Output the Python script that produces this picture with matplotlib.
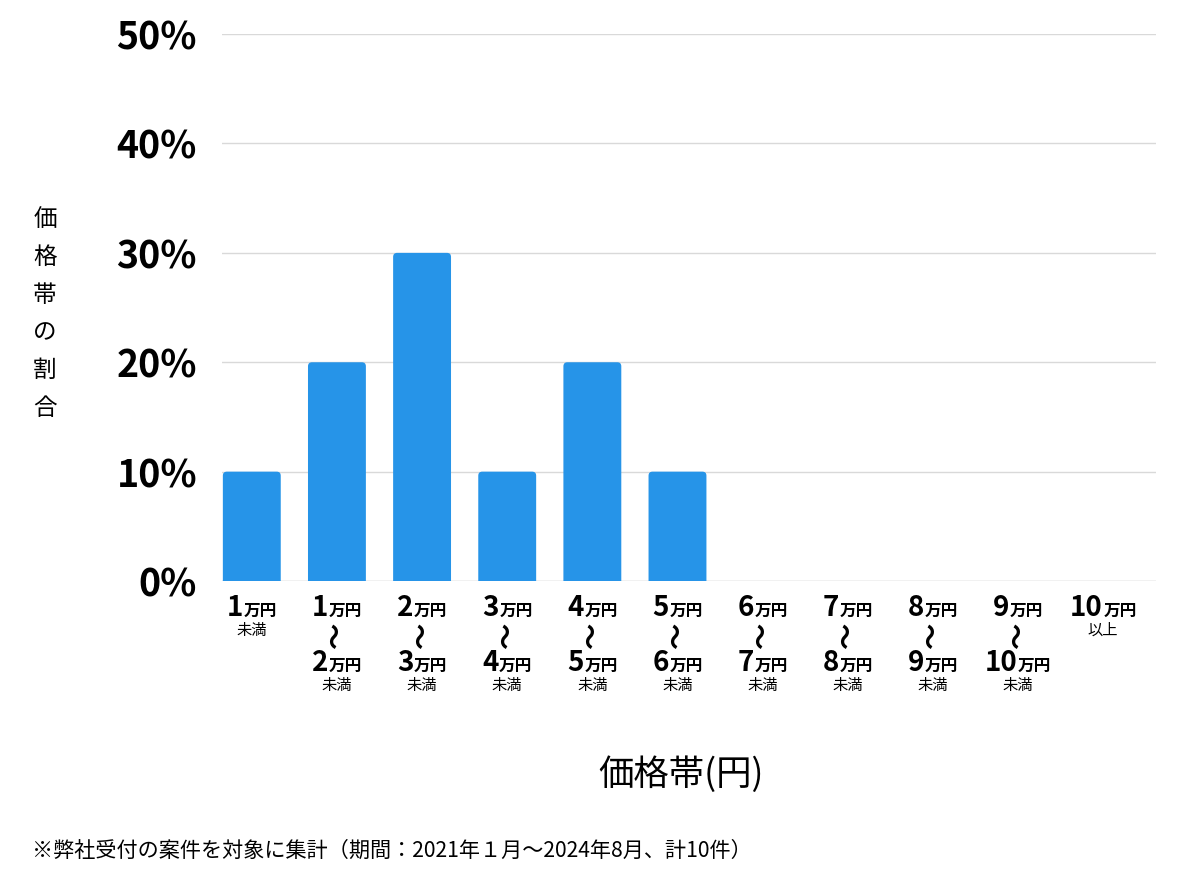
import matplotlib
matplotlib.use("Agg")
import matplotlib.pyplot as plt
from matplotlib.patches import FancyBboxPatch
from matplotlib.offsetbox import TextArea, HPacker, VPacker, AnnotationBbox

plt.rcParams['font.family'] = ['Noto Sans CJK JP', 'DejaVu Sans']

# data
lower = ["", "1", "2", "3", "4", "5", "6", "7", "8", "9", "10"]
upper = ["1", "2", "3", "4", "5", "6", "7", "8", "9", "10", ""]
values = [10, 20, 30, 10, 20, 10, 0, 0, 0, 0, 0]
yticks = [0, 10, 20, 30, 40, 50]
ylabel = "価格帯の割合"
xlabel = "価格帯(円)"
note = "※弊社受付の案件を対象に集計（期間：2021年１月～2024年8月、計10件）"

bar_color = "#2694E8"

fig = plt.figure(figsize=(12, 8.74), dpi=100)
ax = fig.add_axes([0.185, 0.3352, 0.9633 - 0.185, 0.961 - 0.3352])

x = list(range(len(values)))
ax.set_xlim(-0.35, len(values) - 0.38)
ax.set_ylim(0, 50)

bars = ax.bar(x, values, width=0.68, color=bar_color, zorder=3)
px_x = 934 / (len(values) - 0.38 + 0.35)
px_y = 547 / 50
for b in bars:
    h = b.get_height()
    b.set_visible(False)
    if h <= 0:
        continue
    p = FancyBboxPatch((b.get_x(), -2), b.get_width(), h + 2,
                       boxstyle=f"round,pad=0,rounding_size={4/px_x}",
                       mutation_aspect=px_x / px_y,
                       facecolor=bar_color, edgecolor='none', zorder=3)
    ax.add_patch(p)

ax.set_yticks(yticks)
ax.set_yticklabels([f"{v}%" for v in yticks], fontsize=27, fontweight='bold')
ax.tick_params(axis='y', length=0, pad=18)
ax.set_xticks([])
for v in yticks:
    ax.axhline(v, color="#bbbbbb" if v == 0 else "#d9d9d9", lw=1, zorder=1)
for s in ax.spines.values():
    s.set_visible(False)

num_props = dict(fontsize=20, fontweight='bold', color='black')
man_props = dict(fontsize=12, fontweight='bold', color='black')
sub_props = dict(fontsize=11, color='black')
til_props = dict(fontsize=19, fontweight='bold', color='black', rotation=90)


def amount(n):
    return HPacker(children=[TextArea(n, textprops=num_props),
                             TextArea("万円", textprops=man_props)],
                   align="baseline", pad=0, sep=0.5)


for i, (lo, up) in enumerate(zip(lower, upper)):
    if lo == "":
        children = [amount(up), TextArea("未満", textprops=sub_props)]
    elif up == "":
        children = [amount(lo), TextArea("以上", textprops=sub_props)]
    else:
        children = [amount(lo), TextArea("～", textprops=til_props), amount(up),
                    TextArea("未満", textprops=sub_props)]
    box = VPacker(children=children, align="center", pad=0, sep=0)
    ab = AnnotationBbox(box, (i, 0), xycoords=ax.get_xaxis_transform(),
                        xybox=(0, -9), boxcoords="offset points",
                        box_alignment=(0.5, 1), frameon=False)
    ax.add_artist(ab)

fig.text(45 / 1200, 1 - 314 / 874, "\n".join(ylabel), ha='center', va='center',
         fontsize=17, linespacing=1.82)
fig.text(681 / 1200, 1 - 775 / 874, xlabel, ha='center', va='center', fontsize=25.5)
fig.text(32 / 1200, 1 - 851 / 874, note, ha='left', va='center', fontsize=15.2)

fig.savefig("out.png", dpi=100, facecolor='white')
